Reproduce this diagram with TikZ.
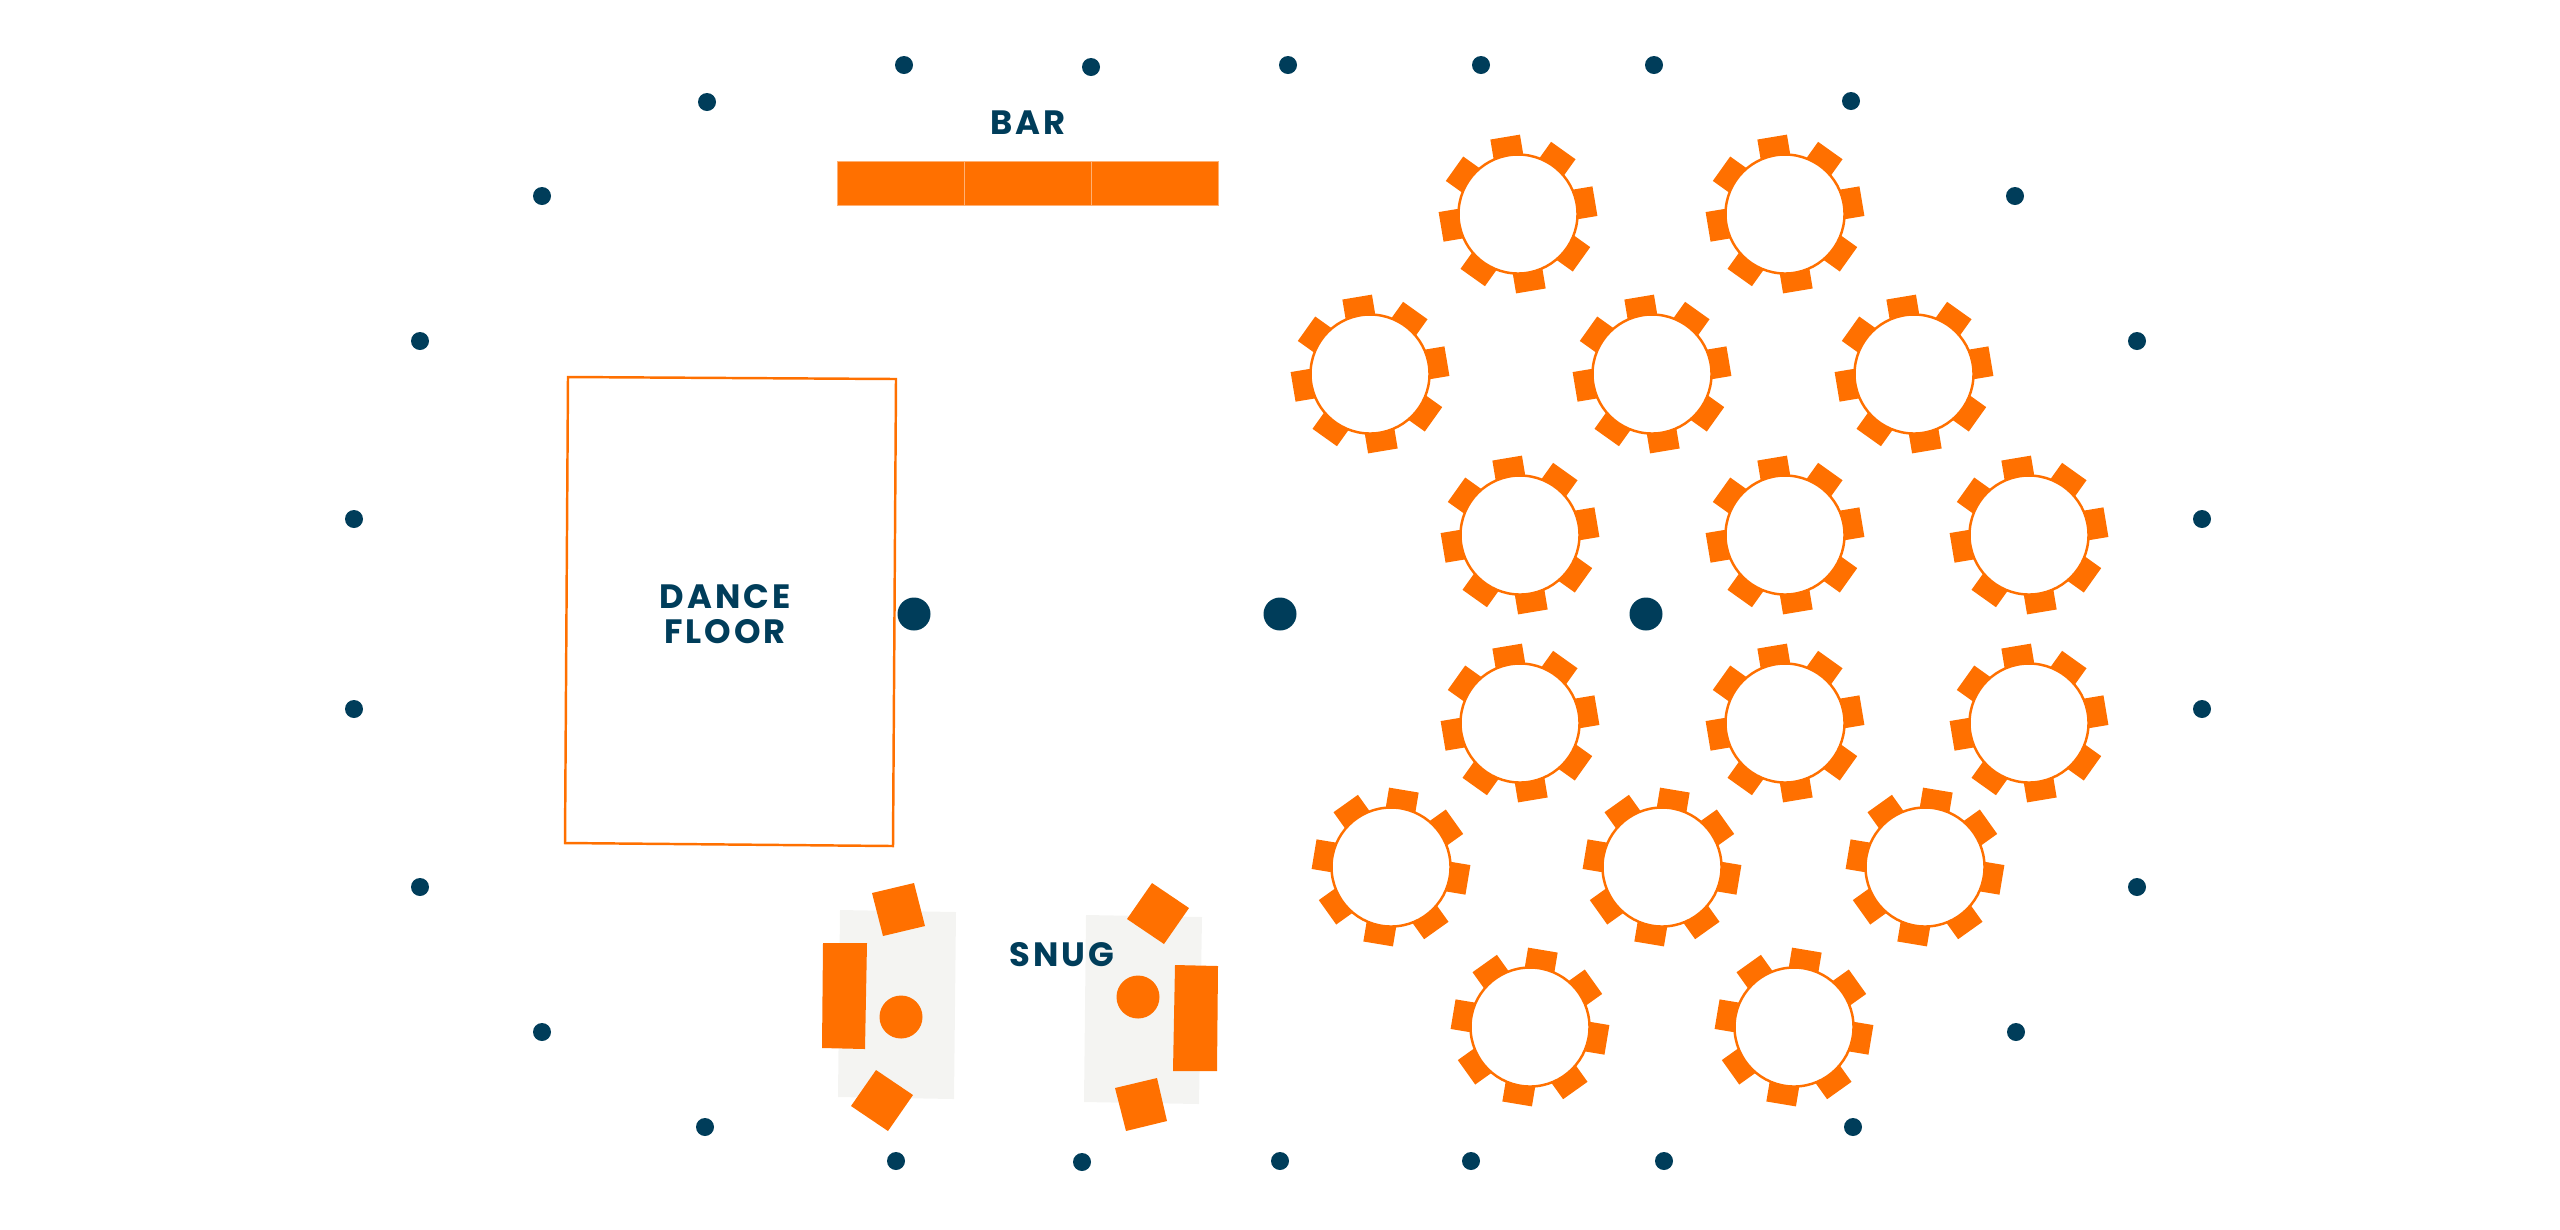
\documentclass[tikz,border=0pt]{standalone}
\usepackage{fontspec}
\setsansfont{Poppins}[LetterSpace=9]
\definecolor{floororange}{RGB}{255,112,0}
\definecolor{labelblue}{RGB}{0,61,90}
\definecolor{snuggrey}{RGB}{244,244,242}

\begin{document}
\begin{tikzpicture}[
    x=0.01cm,
    y=-0.01cm,
    furniture/.style={fill=floororange},
    chair/.style={fill=floororange},
    tabletop/.style={fill=white,draw=floororange,line width=0.7pt},
    light/.style={fill=labelblue},
    rug/.style={fill=snuggrey},
    bartop/.style={fill=floororange,draw=floororange!55!white,line width=0.2pt},
    floorlabel/.style={text=labelblue,font=\sffamily\bfseries\fontsize{9.6}{10}\selectfont,inner sep=0pt,align=center}
    ]
    \useasboundingbox (0,0) rectangle (2560,1229);

    % lights around the room
    \foreach \x/\y in {707/102,904/65,1091/67,1288/65,1481/65,1654/65,1851/101,2015/196,2137/341,2202/519,2202/709,2137/887,2016/1032,1853/1127,1664/1161,1471/1161,1280/1161,1082/1162,896/1161,705/1127,542/1032,420/887,354/709,354/519,420/341,542/196}{
    \fill[light] (\x,\y) circle (9);
    }
    \foreach \x in {914,1280,1646}{
    \fill[light] (\x,614) circle (16.5);
    }

    % bar
    \foreach \x in {837,964,1091}{
    \draw[bartop] (\x,161) rectangle ++(127,44);
    }
    \node[floorlabel] (bar) at (1028,123) {BAR};

    % dance floor
    \draw[draw=floororange,line width=0.7pt] (568,377) -- (896,379) -- (893,846) -- (565,843) -- cycle;
    \node[floorlabel] (dance) at (725,597) {DANCE};
    \node[floorlabel] (floor) at (725,632) {FLOOR};

    % round tables, first the upper ones, then the lower ones
    \foreach \x/\y/\tilt in {1518/214/9.5,1785/214/9.5,1370/374/9.5,1652/374/9.5,1914/374/9.5,1520/535/9.5,1785/535/9.5,2029/535/9.5,1520/723/9.5,1785/723/9.5,2029/723/9.5,1391/867/-9.5,1662/867/-9.5,1925/867/-9.5,1530/1027/-9.5,1794/1027/-9.5}{
    \foreach \a in {0,45,...,315}{
    \fill[chair,shift={(\x,\y)},rotate=\a+\tilt] (50,-15) rectangle (78,15);
    }
    \draw[tabletop] (\x,\y) circle (59.5);
    }

    % snug
    \fill[rug] (840,910) -- (956,912) -- (954,1099) -- (838,1097) -- cycle;
    \fill[rug] (1086,915) -- (1202,917) -- (1199,1104) -- (1084,1102) -- cycle;
    \fill[furniture] (823,943) -- (867,943) -- (865,1049) -- (822,1048) -- cycle;
    \fill[furniture] (1175,965) -- (1218,966) -- (1217,1071) -- (1173,1071) -- cycle;
    \fill[furniture] (901,1017) circle (21.5);
    \fill[furniture] (1138,997) circle (21.5);
    \fill[furniture] (872,893) -- (914,883) -- (925,926) -- (883,936) -- cycle;
    \fill[furniture] (876,1070) -- (913,1095) -- (888,1131) -- (851,1106) -- cycle;
    \fill[furniture] (1152,883) -- (1189,908) -- (1164,944) -- (1127,919) -- cycle;
    \fill[furniture] (1115,1088) -- (1157,1078) -- (1167,1121) -- (1126,1131) -- cycle;
    \node[floorlabel] (snug) at (1062,955) {SNUG};
\end{tikzpicture}
\end{document}
